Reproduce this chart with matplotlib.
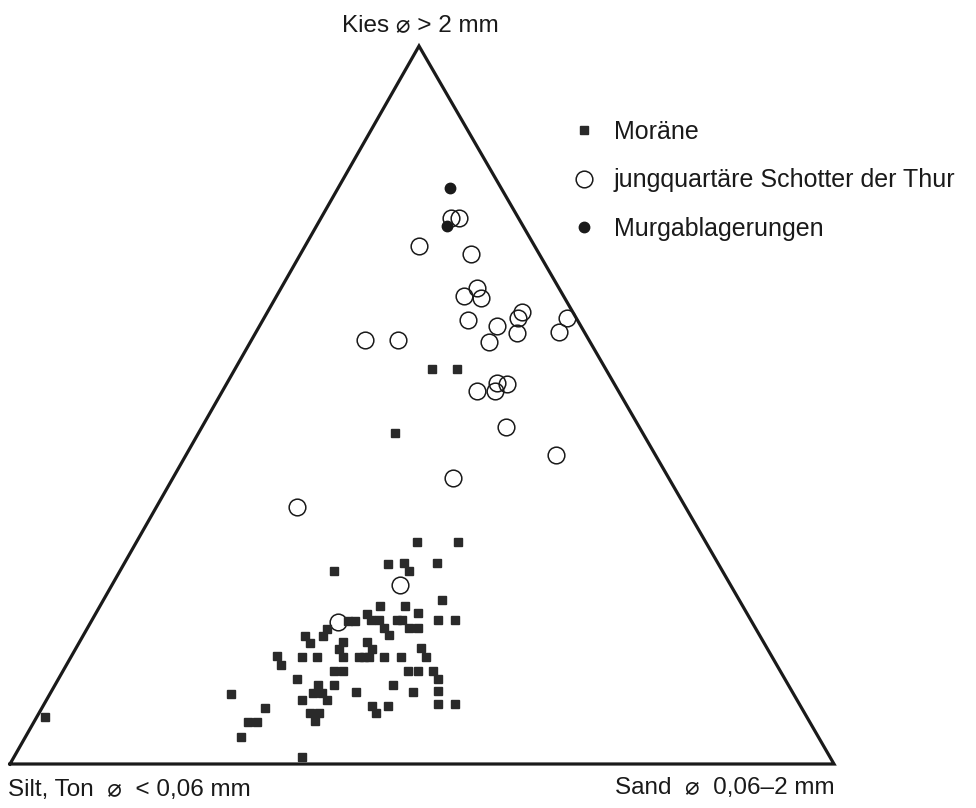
import matplotlib
matplotlib.use('Agg')
import matplotlib.pyplot as plt
import numpy as np

plt.rcParams['font.family'] = ['Liberation Sans', 'DejaVu Sans']

# Korngrössen-Anteile in % (Kies, Sand); Silt/Ton = Rest
moraene_kies = [30.9, 30.9, 27.9, 28.0, 26.9, 28.0, 26.9, 22.9, 22.0, 22.0,
                21.0, 20.9, 19.9, 19.9, 20.0, 20.0, 20.0, 20.0, 18.9, 17.9,
                18.9, 18.9, 20.0, 20.0, 18.8, 17.8, 17.8, 16.9, 17.0, 16.0,
                14.9, 17.0, 16.0, 14.9, 14.9, 14.9, 14.9, 14.9, 16.1, 14.9,
                15.0, 13.8, 14.9, 14.9, 13.0, 13.0, 13.0, 13.0, 13.0, 11.9,
                11.9, 11.0, 9.9, 9.9, 8.9, 11.0, 10.0, 11.0, 10.0, 10.1,
                9.8, 8.9, 7.8, 8.1, 7.1, 8.1, 8.3, 8.3, 7.1, 7.1,
                6.0, 5.9, 5.9, 3.8, 1.0, 6.6, 55.0, 55.0, 46.1]
moraene_sand = [34.0, 39.0, 32.0, 33.9, 35.1, 37.9, 26.0, 41.0, 34.0, 37.0,
                39.1, 33.0, 31.2, 32.0, 33.9, 34.9, 37.0, 37.7, 36.0, 37.1,
                39.0, 40.1, 42.0, 44.1, 29.1, 29.1, 27.0, 28.0, 32.0, 32.0,
                33.0, 34.9, 36.0, 34.9, 35.6, 36.2, 38.0, 40.0, 41.9, 43.1,
                24.9, 26.0, 28.0, 29.9, 32.9, 34.0, 41.9, 43.1, 44.9, 46.0,
                28.9, 31.9, 31.8, 33.0, 34.0, 33.9, 37.0, 41.0, 44.0, 46.9,
                22.0, 31.0, 27.1, 39.9, 40.9, 41.9, 47.8, 49.9, 32.9, 34.0,
                34.0, 25.9, 27.0, 26.1, 35.0, 1.0, 23.9, 26.9, 23.9]

schotter_kies = [76.1, 76.0, 72.2, 71.0, 66.3, 65.2, 64.9, 61.9, 61.0, 58.8,
                 63.0, 62.1, 60.0, 62.1, 60.1, 59.1, 59.1, 52.0, 52.0, 53.1,
                 52.9, 47.0, 43.0, 39.8, 35.8, 24.9, 19.8]
schotter_sand = [15.7, 16.8, 13.8, 20.7, 23.8, 22.7, 25.0, 24.9, 28.8, 28.9,
                 30.9, 30.8, 31.8, 36.8, 36.8, 13.7, 17.8, 30.9, 33.0, 32.8,
                 34.0, 36.9, 44.9, 34.0, 17.0, 35.0, 30.0]

murgang_kies = [80.2, 75.0]
murgang_sand = [13.6, 15.8]

labels = ['Moräne', 'jungquartäre Schotter der Thur', 'Murgablagerungen']

# Dreieck: Silt links unten, Sand rechts unten, Kies oben
H = 718 / 824  # Höhe des Dreiecks relativ zur Basis
APEX = 409 / 824  # x-Lage der Spitze


def ternary_xy(kies, sand):
    k = np.asarray(kies) / 100
    s = np.asarray(sand) / 100
    return s + APEX * k, k * H


W, Hpx = 976, 808
fig = plt.figure(figsize=(W / 100, Hpx / 100), dpi=100)
ax = fig.add_axes([0, 0, 1, 1])
ax.set_xlim(-10 / 824, (W - 10) / 824)
ax.set_ylim(-(Hpx - 764) / 824, 764 / 824)
ax.axis('off')

# Rahmen
cx, cy = ternary_xy([0, 0, 100, 0], [0, 100, 0, 0])
ax.plot(cx, cy, color='#1a1a1a', lw=2.3, solid_joinstyle='miter', zorder=1)

x, y = ternary_xy(moraene_kies, moraene_sand)
ax.plot(x, y, ls='none', marker='s', ms=5.2, color='#2a2a2a', label=labels[0], zorder=3)

x, y = ternary_xy(schotter_kies, schotter_sand)
ax.plot(x, y, ls='none', marker='o', ms=12, mfc='none', mec='#1a1a1a', mew=1.1,
        label=labels[1], zorder=2)

x, y = ternary_xy(murgang_kies, murgang_sand)
ax.plot(x, y, ls='none', marker='o', ms=7.5, color='#1a1a1a', label=labels[2], zorder=3)

leg = ax.legend(loc='upper left', bbox_to_anchor=(571 / W, 1 - 120 / Hpx),
                bbox_transform=fig.transFigure, frameon=False, fontsize=18,
                numpoints=1, handlelength=1.0, handletextpad=0.7,
                labelspacing=0.98, borderpad=0, borderaxespad=0)
for t in leg.get_texts():
    t.set_color('#1a1a1a')

fs = 17.5
fig.text(420 / W, 1 - 31 / Hpx, 'Kies ⌀ > 2 mm', ha='center', va='baseline',
         fontsize=fs, color='#1a1a1a')
fig.text(8 / W, 1 - 796 / Hpx, 'Silt, Ton  ⌀  < 0,06 mm', ha='left', va='baseline',
         fontsize=fs, color='#1a1a1a')
fig.text(835 / W, 1 - 794 / Hpx, 'Sand  ⌀  0,06–2 mm', ha='right', va='baseline',
         fontsize=fs, color='#1a1a1a')

fig.savefig('out.png', dpi=100, facecolor='white')
